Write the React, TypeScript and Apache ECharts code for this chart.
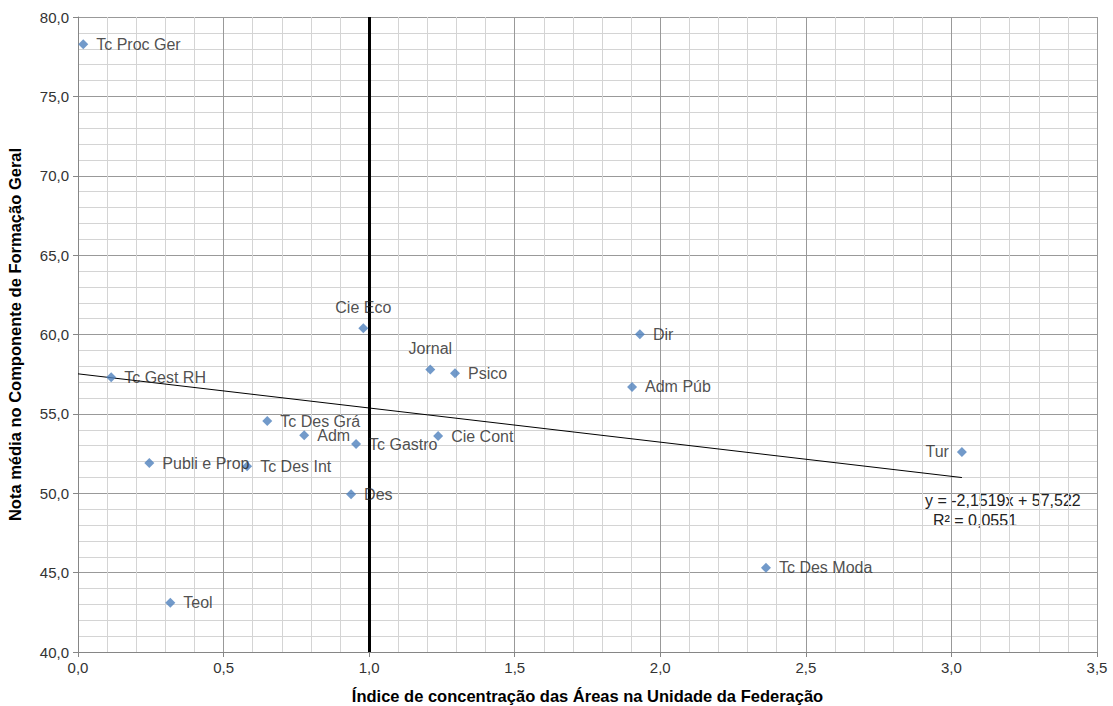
import React, { useEffect, useRef } from "react";
import * as echarts from "echarts";

const names = [
  "Tc Proc Ger", "Tc Gest RH", "Publi e Prop", "Teol", "Tc Des Int", "Tc Des Grá",
  "Adm", "Tc Gastro", "Des", "Cie Eco", "Jornal", "Psico", "Cie Cont", "Dir",
  "Adm Púb", "Tur", "Tc Des Moda",
];
const xValues = [0.018, 0.114, 0.245, 0.317, 0.581, 0.65, 0.777, 0.955, 0.938, 0.98, 1.21, 1.295, 1.237, 1.93, 1.903, 3.036, 2.363];
const yValues = [78.28, 57.31, 51.9, 43.1, 51.7, 54.55, 53.66, 53.1, 49.94, 60.4, 57.8, 57.56, 53.6, 60.02, 56.7, 52.6, 45.3];
const labelPositions = [
  "right", "right", "right", "right", "right", "right", "right", "right", "right",
  "top", "top", "right", "right", "right", "right", "left", "right",
];
const slope = -2.1519;
const intercept = 57.522;
const trendRange = [0, 3.036];
const equationText = "y = -2,1519x + 57,522";
const r2Text = "R² = 0,0551";
const referenceX = 1.0;

const fmt = (v: number) => v.toFixed(1).replace(".", ",");

export default function App() {
  const ref = useRef<HTMLDivElement>(null);
  useEffect(() => {
    document.body.style.margin = "0";
    const chart = echarts.init(ref.current!, null, { renderer: "svg" });
    const font = "Liberation Sans, Arial, sans-serif";
    const points = names.map((n, i) => ({
      name: n,
      value: [xValues[i], yValues[i]],
      label: { position: labelPositions[i] as any },
    }));
    const trend = trendRange.map((x) => [x, slope * x + intercept]);
    chart.setOption({
      animation: false,
      backgroundColor: "#ffffff",
      grid: { left: 78, right: 16, top: 17, bottom: 54, containLabel: false, outerBoundsMode: "none" },
      xAxis: {
        type: "value",
        min: 0,
        max: 3.5,
        interval: 0.5,
        name: "Índice de concentração das Áreas na Unidade da Federação",
        nameLocation: "middle",
        nameGap: 35,
        nameTextStyle: { fontFamily: font, fontWeight: "bold", fontSize: 16.5, color: "#000" },
        axisLine: { show: true, lineStyle: { color: "#868686", width: 1 } },
        axisTick: { show: true, inside: false, length: 5, lineStyle: { color: "#868686" } },
        axisLabel: { formatter: fmt, fontFamily: font, fontSize: 15, color: "#333", margin: 8 },
        splitLine: { show: true, lineStyle: { color: "#999999", width: 1 } },
        minorTick: { show: false, splitNumber: 5 },
        minorSplitLine: { show: true, lineStyle: { color: "#d4d4d4", width: 1 } },
      },
      yAxis: {
        type: "value",
        min: 40,
        max: 80,
        interval: 5,
        name: "Nota média no Componente de Formação Geral",
        nameLocation: "middle",
        nameGap: 55,
        nameTextStyle: { fontFamily: font, fontWeight: "bold", fontSize: 16.5, color: "#000" },
        axisLine: { show: true, lineStyle: { color: "#868686", width: 1 } },
        axisTick: { show: true, inside: false, length: 5, lineStyle: { color: "#868686" } },
        axisLabel: { formatter: fmt, fontFamily: font, fontSize: 15, color: "#333", margin: 9 },
        splitLine: { show: true, lineStyle: { color: "#999999", width: 1 } },
        minorTick: { show: false, splitNumber: 5 },
        minorSplitLine: { show: true, lineStyle: { color: "#d4d4d4", width: 1 } },
      },
      series: [
        {
          type: "line",
          data: trend,
          symbol: "none",
          lineStyle: { color: "#000", width: 1 },
          z: 3,
          silent: true,
          markLine: {
            silent: true,
            symbol: "none",
            label: { show: false },
            lineStyle: { color: "#000", width: 3, type: "solid" },
            data: [{ xAxis: referenceX }],
          },
        },
        {
          type: "scatter",
          data: points,
          symbol: "diamond",
          symbolSize: 10,
          itemStyle: { color: "#4F81BD" },
          z: 5,
          label: {
            show: true,
            formatter: (p: any) => p.name,
            fontFamily: font,
            fontSize: 16,
            color: "#222",
            distance: 8,
          },
        },
      ],
      graphic: [
        {
          type: "text",
          left: 925,
          top: 492,
          style: { text: equationText, font: `16px ${font}`, fill: "#222" },
        },
        {
          type: "text",
          left: 933,
          top: 512,
          style: { text: r2Text, font: `16px ${font}`, fill: "#222" },
        },
      ],
    });
    return () => chart.dispose();
  }, []);
  return <div ref={ref} style={{ width: 1113, height: 706 }} />;
}
